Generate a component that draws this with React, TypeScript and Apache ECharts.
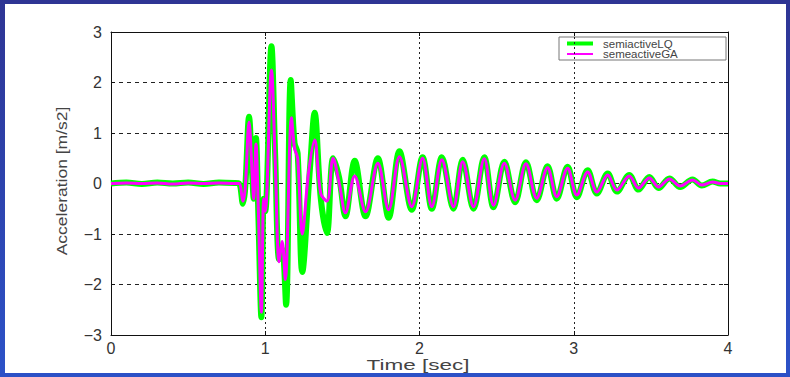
import React, { useEffect, useRef } from "react";
import * as echarts from "echarts";

const xTicks = [0, 1, 2, 3, 4];
const yTicks = [-3, -2, -1, 0, 1, 2, 3];
const xTitle = "Time [sec]";
const yTitle = "Acceleration [m/s2]";

const lqTime = [0, 0.1, 0.2, 0.3, 0.4, 0.5, 0.6, 0.7, 0.8, 0.83, 0.855, 0.87, 0.895, 0.915, 0.925, 0.94, 0.955, 0.975, 0.99, 1.0, 1.04, 1.065, 1.09, 1.11, 1.135, 1.165, 1.19, 1.21, 1.24, 1.29, 1.32, 1.36, 1.4, 1.44, 1.48, 1.52, 1.58, 1.65, 1.73, 1.8, 1.87, 1.95, 2.02, 2.08, 2.145, 2.22, 2.28, 2.35, 2.42, 2.48, 2.55, 2.62, 2.69, 2.76, 2.83, 2.89, 2.96, 3.02, 3.09, 3.15, 3.22, 3.28, 3.36, 3.42, 3.49, 3.55, 3.62, 3.69, 3.77, 3.83, 3.9, 3.95, 4.0];
const lqValue = [0, 0.02, -0.01, 0.02, 0, 0.02, -0.01, 0.02, 0.01, 0, -0.4, -0.1, 1.32, 0.2, -0.3, 0.9, -0.6, -2.65, -0.3, -0.55, 2.72, 0.5, -1.5, -1.3, -2.4, 2.05, 0.8, 0.6, -1.75, 0.3, 1.4, -0.3, -0.98, 0.5, 0.1, -0.65, 0.45, -0.65, 0.5, -0.68, 0.64, -0.52, 0.52, -0.5, 0.52, -0.5, 0.47, -0.5, 0.52, -0.47, 0.43, -0.37, 0.42, -0.33, 0.34, -0.3, 0.33, -0.27, 0.26, -0.2, 0.2, -0.16, 0.17, -0.12, 0.13, -0.09, 0.1, -0.07, 0.08, -0.04, 0.04, 0, 0];

const gaTime = [0, 0.1, 0.2, 0.3, 0.4, 0.5, 0.6, 0.7, 0.8, 0.83, 0.855, 0.87, 0.895, 0.915, 0.925, 0.94, 0.955, 0.975, 0.99, 1.0, 1.04, 1.065, 1.09, 1.11, 1.13, 1.17, 1.19, 1.21, 1.24, 1.28, 1.32, 1.36, 1.4, 1.44, 1.48, 1.52, 1.58, 1.65, 1.73, 1.8, 1.87, 1.95, 2.02, 2.08, 2.145, 2.22, 2.28, 2.35, 2.42, 2.48, 2.55, 2.62, 2.69, 2.76, 2.83, 2.89, 2.96, 3.02, 3.09, 3.15, 3.22, 3.28, 3.36, 3.42, 3.49, 3.55, 3.62, 3.69, 3.77, 3.83, 3.9, 3.95, 4.0];
const gaValue = [0, 0.01, 0, 0.01, -0.01, 0.01, 0, 0.01, 0, 0, -0.35, -0.1, 1.22, 0.2, -0.3, 0.78, -0.5, -2.55, -0.3, -0.55, 2.25, 0.4, -1.55, -1.15, -1.9, 1.3, 0.7, 0.5, -1.0, 0.2, 0.86, -0.2, -0.35, 0.5, 0.0, -0.58, 0.15, -0.56, 0.4, -0.52, 0.53, -0.46, 0.5, -0.46, 0.47, -0.46, 0.43, -0.46, 0.49, -0.43, 0.4, -0.33, 0.39, -0.29, 0.31, -0.26, 0.3, -0.23, 0.23, -0.17, 0.17, -0.13, 0.15, -0.09, 0.11, -0.07, 0.09, -0.05, 0.07, -0.03, 0.03, 0, 0];

const seriesNames = ["semiactiveLQ", "semeactiveGA"];
const seriesColors = ["#00ff00", "#ff00ff"];

const FONT = "'Liberation Sans', Arial, sans-serif";

export default function App() {
  const ref = useRef<HTMLDivElement>(null);
  useEffect(() => {
    if (!ref.current) return;
    const chart = echarts.init(ref.current, null, { renderer: "svg" });
    const lq = lqTime.map((t, i) => [t, lqValue[i]]);
    const ga = gaTime.map((t, i) => [t, gaValue[i]]);
    const fmt = (v: number) => String(v).replace("-", "\u2212");
    const frameAxis = {
      axisLine: { show: true, onZero: false, lineStyle: { color: "#111", width: 1 } },
      axisTick: { show: true, inside: true, length: 4, lineStyle: { color: "#111" } },
    };
    const blueGrad = () =>
      new echarts.graphic.LinearGradient(0, 0, 0, 1, [
        { offset: 0, color: "#2e3594" },
        { offset: 1, color: "#2c52c8" },
      ]);
    chart.setOption({
      animation: false,
      backgroundColor: "#ffffff",
      grid: {
        left: 111,
        top: 32,
        width: 617,
        height: 303,
        show: false,
      },
      xAxis: [
        {
          type: "value",
          min: xTicks[0],
          max: xTicks[xTicks.length - 1],
          interval: 1,
          position: "bottom",
          ...frameAxis,
          axisLabel: { fontFamily: FONT, fontSize: 16, color: "#333", margin: 5 },
          splitLine: { show: true, lineStyle: { color: "#222", type: [2, 3], width: 1 } },
        },
        {
          type: "value",
          min: xTicks[0],
          max: xTicks[xTicks.length - 1],
          interval: 1,
          position: "top",
          ...frameAxis,
          axisLabel: { show: false },
          splitLine: { show: false },
        },
      ],
      yAxis: [
        {
          type: "value",
          min: yTicks[0],
          max: yTicks[yTicks.length - 1],
          interval: 1,
          position: "left",
          ...frameAxis,
          axisLabel: { fontFamily: FONT, fontSize: 16, color: "#333", margin: 9, formatter: fmt },
          splitLine: { show: true, lineStyle: { color: "#222", type: [4, 4], width: 1 } },
        },
        {
          type: "value",
          min: yTicks[0],
          max: yTicks[yTicks.length - 1],
          interval: 1,
          position: "right",
          ...frameAxis,
          axisLabel: { show: false },
          splitLine: { show: false },
        },
      ],
      series: [
        {
          name: seriesNames[0],
          type: "line",
          data: lq,
          symbol: "none",
          smooth: 0.35,
          lineStyle: { color: seriesColors[0], width: 6 },
          z: 2,
        },
        {
          name: seriesNames[1],
          type: "line",
          data: ga,
          symbol: "none",
          smooth: 0.35,
          lineStyle: { color: seriesColors[1], width: 3 },
          z: 3,
        },
      ],
      graphic: [
        { type: "rect", shape: { x: 0, y: 0, width: 790, height: 4 }, style: { fill: "#2e3594" }, z: 100 },
        { type: "rect", shape: { x: 0, y: 0, width: 5, height: 377 }, style: { fill: blueGrad() }, z: 100 },
        { type: "rect", shape: { x: 786, y: 0, width: 4, height: 377 }, style: { fill: blueGrad() }, z: 100 },
        { type: "rect", shape: { x: 0, y: 373, width: 790, height: 4 }, style: { fill: "#2c50c6" }, z: 100 },
        {
          type: "text",
          x: 418,
          y: 365,
          scaleX: 1.5,
          style: { text: xTitle, fontFamily: FONT, fontSize: 15, fill: "#444", align: "center", verticalAlign: "middle" },
          z: 60,
        },
        {
          type: "text",
          x: 62,
          y: 181,
          rotation: Math.PI / 2,
          scaleX: 1.25,
          style: { text: yTitle, fontFamily: FONT, fontSize: 14, fill: "#444", align: "center", verticalAlign: "middle" },
          z: 60,
        },
        {
          type: "group",
          x: 559,
          y: 37,
          z: 50,
          children: [
            { type: "rect", shape: { x: 0, y: 0, width: 167, height: 23 }, style: { fill: "#fff", stroke: "#777", lineWidth: 1 } },
            { type: "line", shape: { x1: 8, y1: 6.5, x2: 34, y2: 6.5 }, style: { stroke: seriesColors[0], lineWidth: 4 } },
            { type: "line", shape: { x1: 8, y1: 17, x2: 34, y2: 17 }, style: { stroke: seriesColors[1], lineWidth: 2 } },
            { type: "text", x: 44, y: 6.5, style: { text: seriesNames[0], fontFamily: FONT, fontSize: 11.5, fill: "#444", verticalAlign: "middle" } },
            { type: "text", x: 44, y: 17, style: { text: seriesNames[1], fontFamily: FONT, fontSize: 11.5, fill: "#444", verticalAlign: "middle" } },
          ],
        },
      ],
    });
    return () => chart.dispose();
  }, []);
  return (
    <div style={{ position: "fixed", left: 0, top: 0, width: 790, height: 377, background: "#fff" }}>
      <div ref={ref} style={{ width: 790, height: 377 }} />
    </div>
  );
}
